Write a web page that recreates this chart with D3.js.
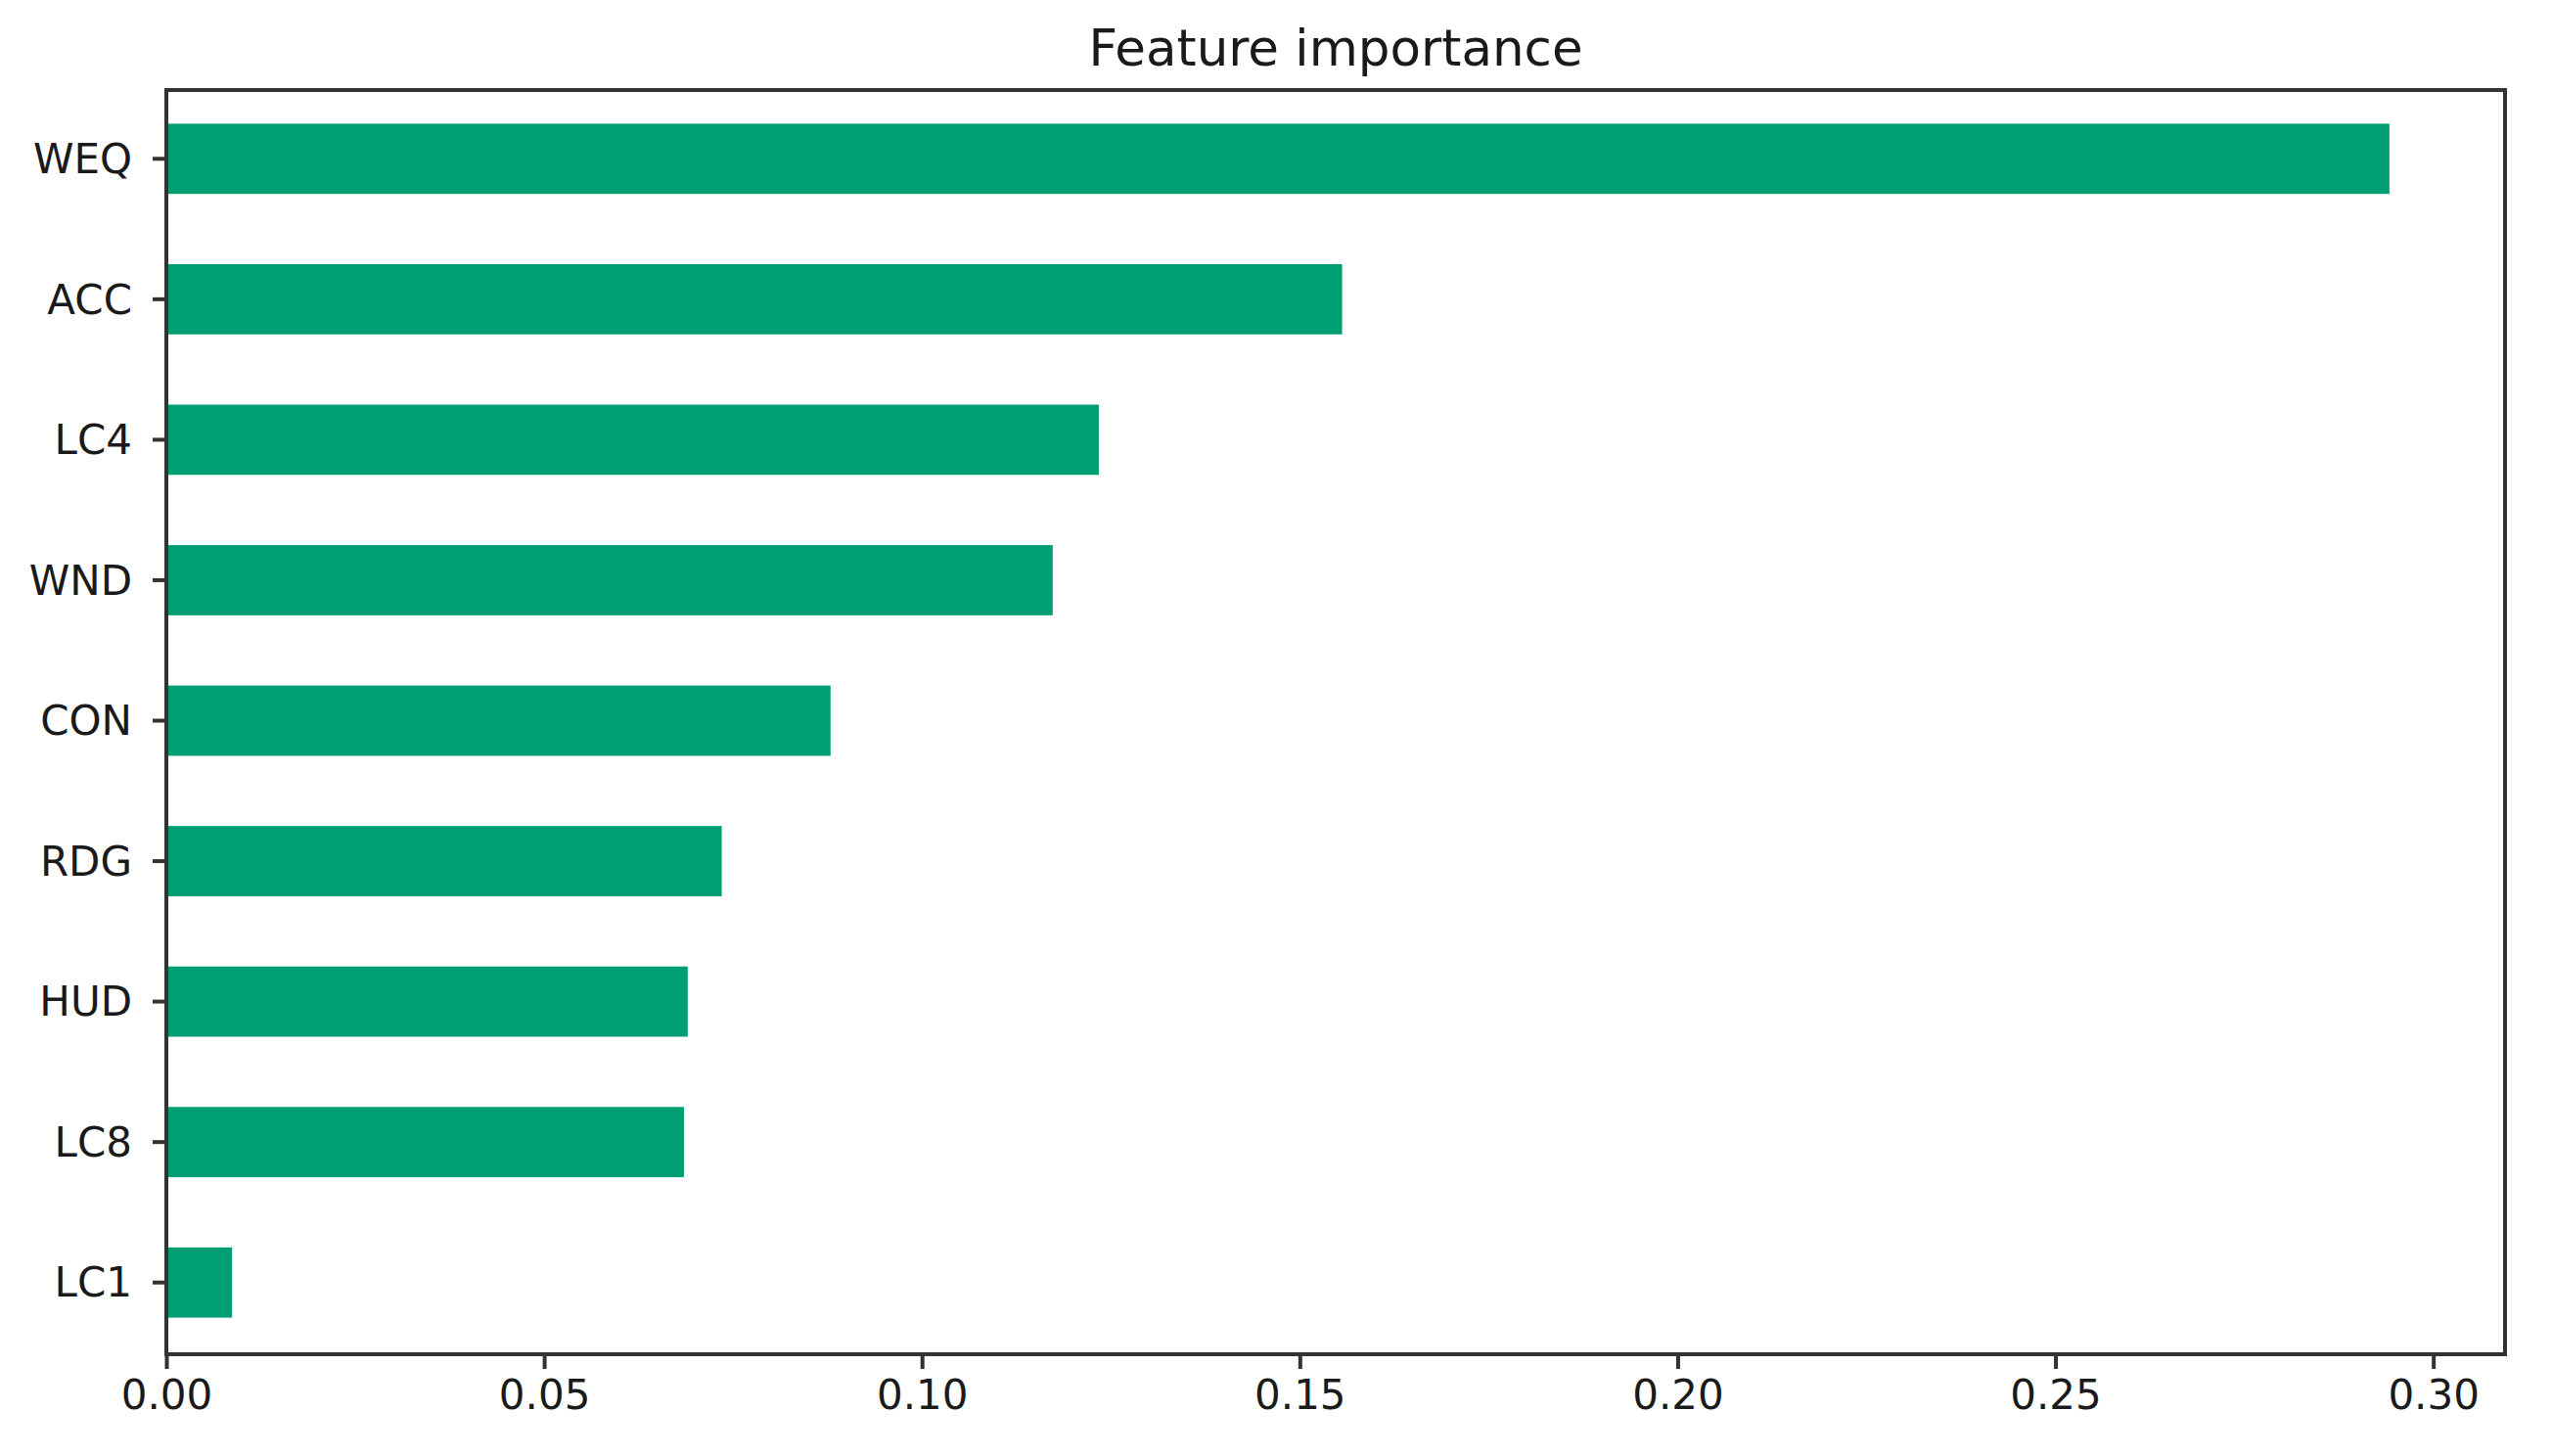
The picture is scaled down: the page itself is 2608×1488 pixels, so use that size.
<!DOCTYPE html>
<html>
<head>
<meta charset="utf-8">
<script src="https://cdn.jsdelivr.net/npm/d3@7"></script>
<style>
  html, body { margin: 0; padding: 0; background: #fff; }
  svg { display: block; }
  text { font-family: "DejaVu Sans", sans-serif; fill: #1a1a1a; }
</style>
</head>
<body>
<script>
// Data (top-to-bottom order as displayed)
const categories = ["WEQ", "ACC", "LC4", "WND", "CON", "RDG", "HUD", "LC8", "LC1"];
const importance = [0.2942, 0.1556, 0.1234, 0.1173, 0.0879, 0.0735, 0.0690, 0.0685, 0.0087];
const xTicks = [0.00, 0.05, 0.10, 0.15, 0.20, 0.25, 0.30];
const titleText = "Feature importance";

const W = 2608, H = 1488;
const plotL = 170, plotR = 2560, plotT = 92, plotB = 1384;
const barColor = "#029e73";
const axisColor = "#333333";

const svg = d3.select("body").append("svg").attr("width", W).attr("height", H);

const x = d3.scaleLinear().domain([0, d3.max(importance) * 1.052]).range([plotL, plotR]);
const y = d3.scaleBand().domain(categories).range([plotT - 1.5, plotB - 1.5]).paddingInner(0.5).paddingOuter(0.25);

// Bars
svg.append("g").selectAll("rect")
  .data(categories.map((c, i) => ({ c, v: importance[i] })))
  .join("rect")
  .attr("x", x(0))
  .attr("y", d => y(d.c))
  .attr("width", d => x(d.v) - x(0))
  .attr("height", y.bandwidth())
  .attr("fill", barColor);

// X axis
const xAxis = d3.axisBottom(x).tickValues(xTicks).tickFormat(d3.format(".2f")).tickSize(15).tickPadding(10).tickSizeOuter(0);
const gx = svg.append("g").attr("transform", `translate(0,${plotB})`).call(xAxis);
gx.select(".domain").remove();
gx.selectAll(".tick line").attr("stroke", axisColor).attr("stroke-width", 4);
gx.selectAll(".tick text").attr("font-size", 42).attr("fill", "#1a1a1a")
  .attr("font-family", "DejaVu Sans, sans-serif").attr("dy", null).attr("y", 56);

// Y axis
const yAxis = d3.axisLeft(y).tickSize(14).tickPadding(21).tickSizeOuter(0);
const gy = svg.append("g").attr("transform", `translate(${plotL},0)`).call(yAxis);
gy.select(".domain").remove();
gy.selectAll(".tick line").attr("stroke", axisColor).attr("stroke-width", 4);
gy.selectAll(".tick text").attr("font-size", 42).attr("fill", "#1a1a1a")
  .attr("font-family", "DejaVu Sans, sans-serif").attr("dy", "0.35em");

// Frame
svg.append("rect")
  .attr("x", plotL).attr("y", plotT)
  .attr("width", plotR - plotL).attr("height", plotB - plotT)
  .attr("fill", "none").attr("stroke", axisColor).attr("stroke-width", 4);

// Title
svg.append("text")
  .attr("x", (plotL + plotR) / 2).attr("y", 67)
  .attr("text-anchor", "middle")
  .attr("font-size", 51.5)
  .text(titleText);
</script>
</body>
</html>
